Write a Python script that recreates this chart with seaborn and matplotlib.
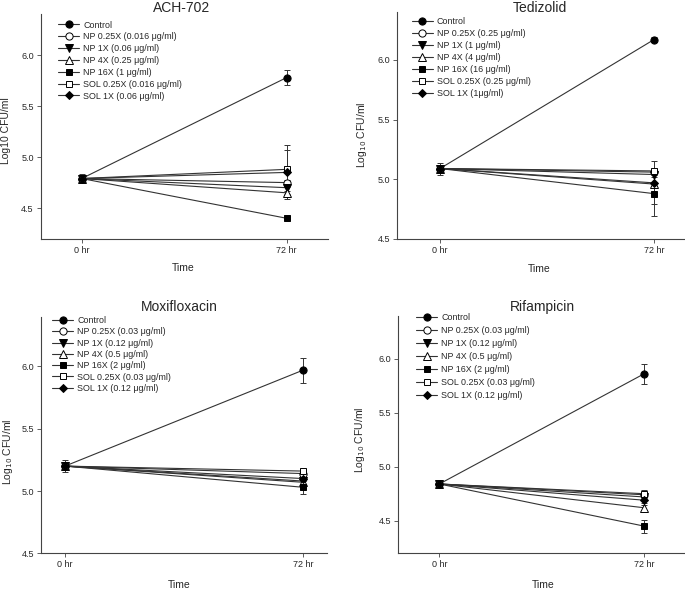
import matplotlib
matplotlib.use("Agg")
import matplotlib.pyplot as plt
import seaborn as sns
import pandas as pd

sns.set_style("ticks")
plt.rcParams["font.family"] = ["Liberation Sans", "DejaVu Sans"]

# data (log10 CFU/ml, mean and error bar half-width)
times = ["0 hr", "72 hr"]
groups = ["Control", "NP 0.25X", "NP 1X", "NP 4X", "NP 16X", "SOL 0.25X", "SOL 1X"]

ach_conc = ["", " (0.016 μg/ml)", " (0.06 μg/ml)", " (0.25 μg/ml)", " (1 μg/ml)", " (0.016 μg/ml)", " (0.06 μg/ml)"]
ted_conc = ["", " (0.25 μg/ml)", " (1 μg/ml)", " (4 μg/ml)", " (16 μg/ml)", " (0.25 μg/ml)", " (1μg/ml)"]
mox_conc = ["", " (0.03 μg/ml)", " (0.12 μg/ml)", " (0.5 μg/ml)", " (2 μg/ml)", " (0.03 μg/ml)", " (0.12 μg/ml)"]
rif_conc = ["", " (0.03 μg/ml)", " (0.12 μg/ml)", " (0.5 μg/ml)", " (2 μg/ml)", " (0.03 μg/ml)", " (0.12 μg/ml)"]

ach_0 = [4.79, 4.79, 4.79, 4.79, 4.79, 4.79, 4.79]
ach_72 = [5.78, 4.75, 4.70, 4.65, 4.40, 4.88, 4.85]
ach_err0 = [0.04, 0.02, 0.02, 0.02, 0.02, 0.02, 0.02]
ach_err72 = [0.075, 0.03, 0.03, 0.06, 0.01, 0.24, 0.22]

ted_0 = [5.09, 5.09, 5.09, 5.09, 5.09, 5.09, 5.09]
ted_72 = [6.17, 5.06, 5.04, 4.96, 4.88, 5.07, 4.97]
ted_err0 = [0.05, 0.02, 0.02, 0.02, 0.02, 0.02, 0.02]
ted_err72 = [0.02, 0.02, 0.02, 0.02, 0.19, 0.02, 0.18]

mox_0 = [5.20, 5.20, 5.20, 5.20, 5.20, 5.20, 5.20]
mox_72 = [5.97, 5.14, 5.08, 5.07, 5.03, 5.16, 5.10]
mox_err0 = [0.05, 0.02, 0.02, 0.02, 0.02, 0.02, 0.02]
mox_err72 = [0.10, 0.02, 0.02, 0.02, 0.05, 0.02, 0.02]

rif_0 = [4.84, 4.84, 4.84, 4.84, 4.84, 4.84, 4.84]
rif_72 = [5.86, 4.74, 4.72, 4.62, 4.45, 4.75, 4.69]
rif_err0 = [0.01, 0.01, 0.01, 0.01, 0.01, 0.01, 0.01]
rif_err72 = [0.09, 0.03, 0.03, 0.03, 0.06, 0.03, 0.03]

# marker, face colour, size for each group
styles = {
    "Control": ("o", "black", 5.2),
    "NP 0.25X": ("o", "white", 5.2),
    "NP 1X": ("v", "black", 5.2),
    "NP 4X": ("^", "white", 5.2),
    "NP 16X": ("s", "black", 4.7),
    "SOL 0.25X": ("s", "white", 4.7),
    "SOL 1X": ("D", "black", 4.2),
}

W, H = 685, 591
fig = plt.figure(figsize=(W / 100, H / 100), dpi=100)


def px_rect(left, top, right, bottom):
    return [left / W, 1 - bottom / H, (right - left) / W, (bottom - top) / H]


panels = [
    ("ACH-702", ach_conc, ach_0, ach_72, ach_err0, ach_err72, "Log10 CFU/ml",
     (40.7, 14.3, 327.7, 238.7), (4.2, 6.4), (-0.2, 1.2),
     (182, 8), (6, 131), (183, 268), (58, 20.5), 0.32),
    ("Tedizolid", ted_conc, ted_0, ted_72, ted_err0, ted_err72, "Log$_{10}$ CFU/ml",
     (397.2, 12.1, 696.8, 239), (4.5, 6.4), (-0.2, 1.2),
     (540, 8), (362, 135), (539, 269), (411.5, 17.5), 0.33),
    ("Moxifloxacin", mox_conc, mox_0, mox_72, mox_err0, mox_err72, "Log$_{10}$ CFU/ml",
     (41.2, 316.6, 326.8, 553.3), (4.5, 6.4), (-0.1, 1.1),
     (179, 306.7), (8, 452), (179, 585), (52, 316), 0.26),
    ("Rifampicin", rif_conc, rif_0, rif_72, rif_err0, rif_err72, "Log$_{10}$ CFU/ml",
     (398.4, 315.5, 685, 553.1), (4.2, 6.4), (-0.2, 1.2),
     (542, 306.7), (360, 440), (543, 585), (416, 313), 0.45),
]

for (title, conc, y0, y72, e0, e72, ylab, box, ylim, xlim,
     tpos, ylpos, xlpos, lgpos, lspace) in panels:
    ax = fig.add_axes(px_rect(*box))
    for i, g in enumerate(groups):
        df = pd.DataFrame({"x": [0, 1], "y": [y0[i], y72[i]]})
        m, fc, ms = styles[g]
        ax.errorbar(df["x"], df["y"], yerr=[e0[i], e72[i]], fmt="none",
                    ecolor="#333333", elinewidth=0.7, capsize=2.5, capthick=0.7, zorder=2)
        sns.lineplot(data=df, x="x", y="y", ax=ax, color="#333333", lw=0.8,
                     marker=m, markersize=ms, markerfacecolor=fc,
                     markeredgecolor="black", markeredgewidth=0.7,
                     label=g + conc[i], errorbar=None, zorder=3)

    ax.set_xlim(*xlim)
    ax.set_ylim(*ylim)
    ax.set_xticks([0, 1])
    ax.set_xticklabels(times)
    ax.set_yticks([4.5, 5.0, 5.5, 6.0])
    ax.set_yticklabels(["4.5", "5.0", "5.5", "6.0"])
    ax.set_xlabel("")
    ax.set_ylabel("")
    ax.tick_params(labelsize=6.5, length=3, width=0.6, color="#444444", pad=2)
    sns.despine(ax=ax)
    for s in ["left", "bottom"]:
        ax.spines[s].set_color("#444444")
        ax.spines[s].set_linewidth(0.8)

    ax.legend(loc="upper left", bbox_to_anchor=(lgpos[0] / W, 1 - lgpos[1] / H),
              bbox_transform=fig.transFigure, frameon=False, fontsize=6.4,
              handlelength=2.4, handletextpad=0.45, labelspacing=lspace,
              borderpad=0, borderaxespad=0, numpoints=1)

    fig.text(tpos[0] / W, 1 - tpos[1] / H, title, ha="center", va="center", fontsize=10)
    fig.text(ylpos[0] / W, 1 - ylpos[1] / H, ylab, ha="center", va="center",
             rotation=90, fontsize=7.5)
    fig.text(xlpos[0] / W, 1 - xlpos[1] / H, "Time", ha="center", va="center", fontsize=7.5)

fig.savefig("out.png", dpi=100)
